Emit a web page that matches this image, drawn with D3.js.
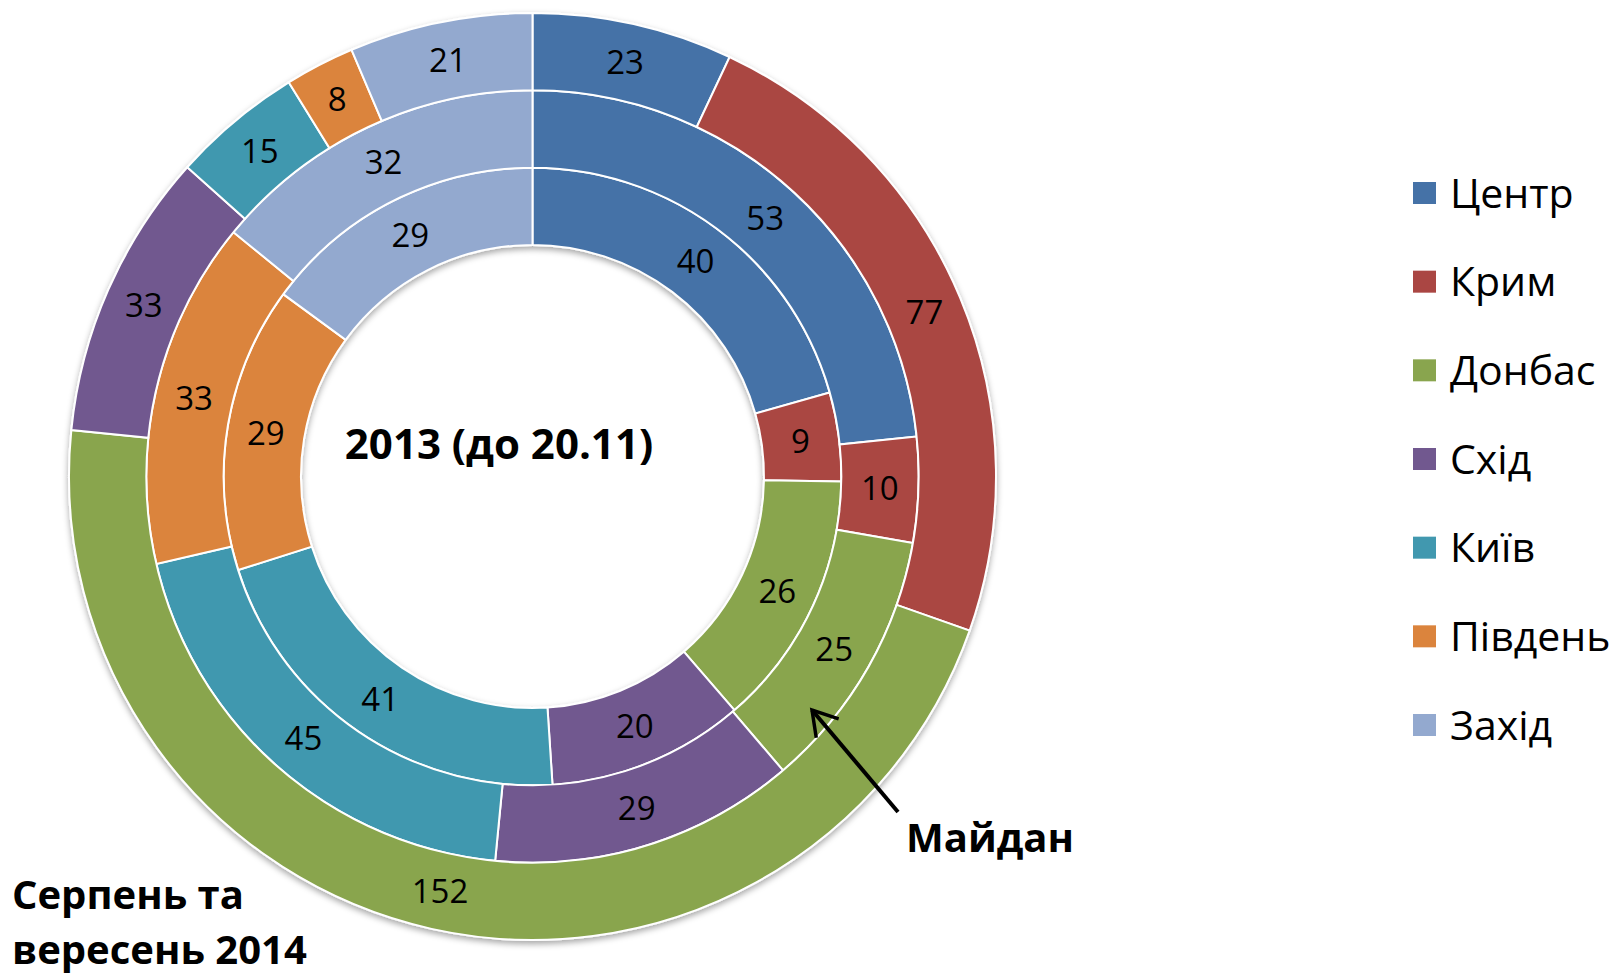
<!DOCTYPE html>
<html>
<head>
<meta charset="utf-8">
<script src="https://cdn.jsdelivr.net/npm/d3@7"></script>
<style>
  html, body { margin: 0; padding: 0; background: #fff; }
  svg { display: block; }
  text { font-family: "Open Sans", "Noto Sans", sans-serif; fill: #000; }
</style>
</head>
<body>
<div id="chart"></div>
<script>
// data
const regions = ["Центр", "Крим", "Донбас", "Схід", "Київ", "Південь", "Захід"];
const regionColors = ["#4572A7", "#AA4643", "#89A54E", "#71588F", "#4198AF", "#DB843D", "#93A9CF"];
const rings = ["2013", "Майдан", "2014"];
const values2013 = [40, 9, 26, 20, 41, 29, 29];
const valuesMaidan = [53, 10, 25, 29, 45, 33, 32];
const values2014 = [23, 77, 152, 33, 15, 8, 21];
const ringValues = [values2013, valuesMaidan, values2014];

// config
const width = 1618;
const height = 977;
const cx = 532.5, cy = 476.5;
const holeRadius = 231.5, outerRadius = 463.5;

const svg = d3.select("#chart")
  .append("svg")
  .attr("width", width)
  .attr("height", height);

const defs = svg.append("defs");
const shadow = defs.append("filter")
  .attr("id", "shadow")
  .attr("x", "-10%").attr("y", "-10%")
  .attr("width", "120%").attr("height", "120%");
shadow.append("feDropShadow")
  .attr("dx", 0).attr("dy", 3)
  .attr("stdDeviation", 3)
  .attr("flood-color", "#000")
  .attr("flood-opacity", 0.35);

const marker = defs.append("marker")
  .attr("id", "arrowhead")
  .attr("viewBox", "0 0 12 12")
  .attr("refX", 10).attr("refY", 6)
  .attr("markerWidth", 8).attr("markerHeight", 8)
  .attr("markerUnits", "strokeWidth")
  .attr("orient", "auto");
marker.append("path")
  .attr("d", "M1,0.5 L10,6 L1,11.5")
  .attr("fill", "none")
  .attr("stroke", "#000")
  .attr("stroke-width", 1.3);

// ring radii from a band scale
const ringScale = d3.scaleBand()
  .domain(rings)
  .range([holeRadius, outerRadius])
  .padding(0);

const color = d3.scaleOrdinal().domain(regions).range(regionColors);

const pie = d3.pie().sort(null).value(d => d.value);

const chart = svg.append("g")
  .attr("transform", `translate(${cx},${cy})`);
const arcsG = chart.append("g").attr("filter", "url(#shadow)");
const labelsG = chart.append("g");

rings.forEach((ring, ri) => {
  const data = ringValues[ri].map((v, i) => ({ region: regions[i], value: v }));
  const r0 = ringScale(ring);
  const arc = d3.arc().innerRadius(r0).outerRadius(r0 + ringScale.bandwidth());

  arcsG.append("g").selectAll("path")
    .data(pie(data))
    .enter().append("path")
    .attr("d", arc)
    .attr("fill", d => color(d.data.region))
    .attr("stroke", "#fff")
    .attr("stroke-width", 2);

  labelsG.append("g").selectAll("text")
    .data(pie(data))
    .enter().append("text")
    .attr("x", d => arc.centroid(d)[0])
    .attr("y", d => arc.centroid(d)[1])
    .attr("dy", "0.36em")
    .attr("text-anchor", "middle")
    .style("font-size", "33px")
    .text(d => d.data.value);
});

// annotations
svg.append("text")
  .attr("x", 499).attr("y", 459)
  .attr("text-anchor", "middle")
  .style("font-size", "42px")
  .style("font-weight", "bold")
  .text("2013 (до 20.11)");

svg.append("text")
  .attr("x", 906).attr("y", 852)
  .style("font-size", "40px")
  .style("font-weight", "bold")
  .text("Майдан");

const bottomLabel = svg.append("text")
  .style("font-size", "40px")
  .style("font-weight", "bold");
bottomLabel.append("tspan").attr("x", 12).attr("y", 909).text("Серпень та");
bottomLabel.append("tspan").attr("x", 12).attr("y", 964).text("вересень 2014");

svg.append("line")
  .attr("x1", 898).attr("y1", 812)
  .attr("x2", 812).attr("y2", 710)
  .attr("stroke", "#000")
  .attr("stroke-width", 4)
  .attr("marker-end", "url(#arrowhead)");

// legend
const legendY = d3.scalePoint()
  .domain(regions)
  .range([193, 725]);

const legend = svg.append("g").selectAll("g")
  .data(regions)
  .enter().append("g")
  .attr("transform", d => `translate(1413,${legendY(d)})`);

legend.append("rect")
  .attr("x", 0).attr("y", -11)
  .attr("width", 23).attr("height", 22)
  .attr("fill", d => color(d));

legend.append("text")
  .attr("x", 37).attr("y", 0)
  .attr("dy", "0.36em")
  .style("font-size", "41px")
  .text(d => d);
</script>
</body>
</html>
